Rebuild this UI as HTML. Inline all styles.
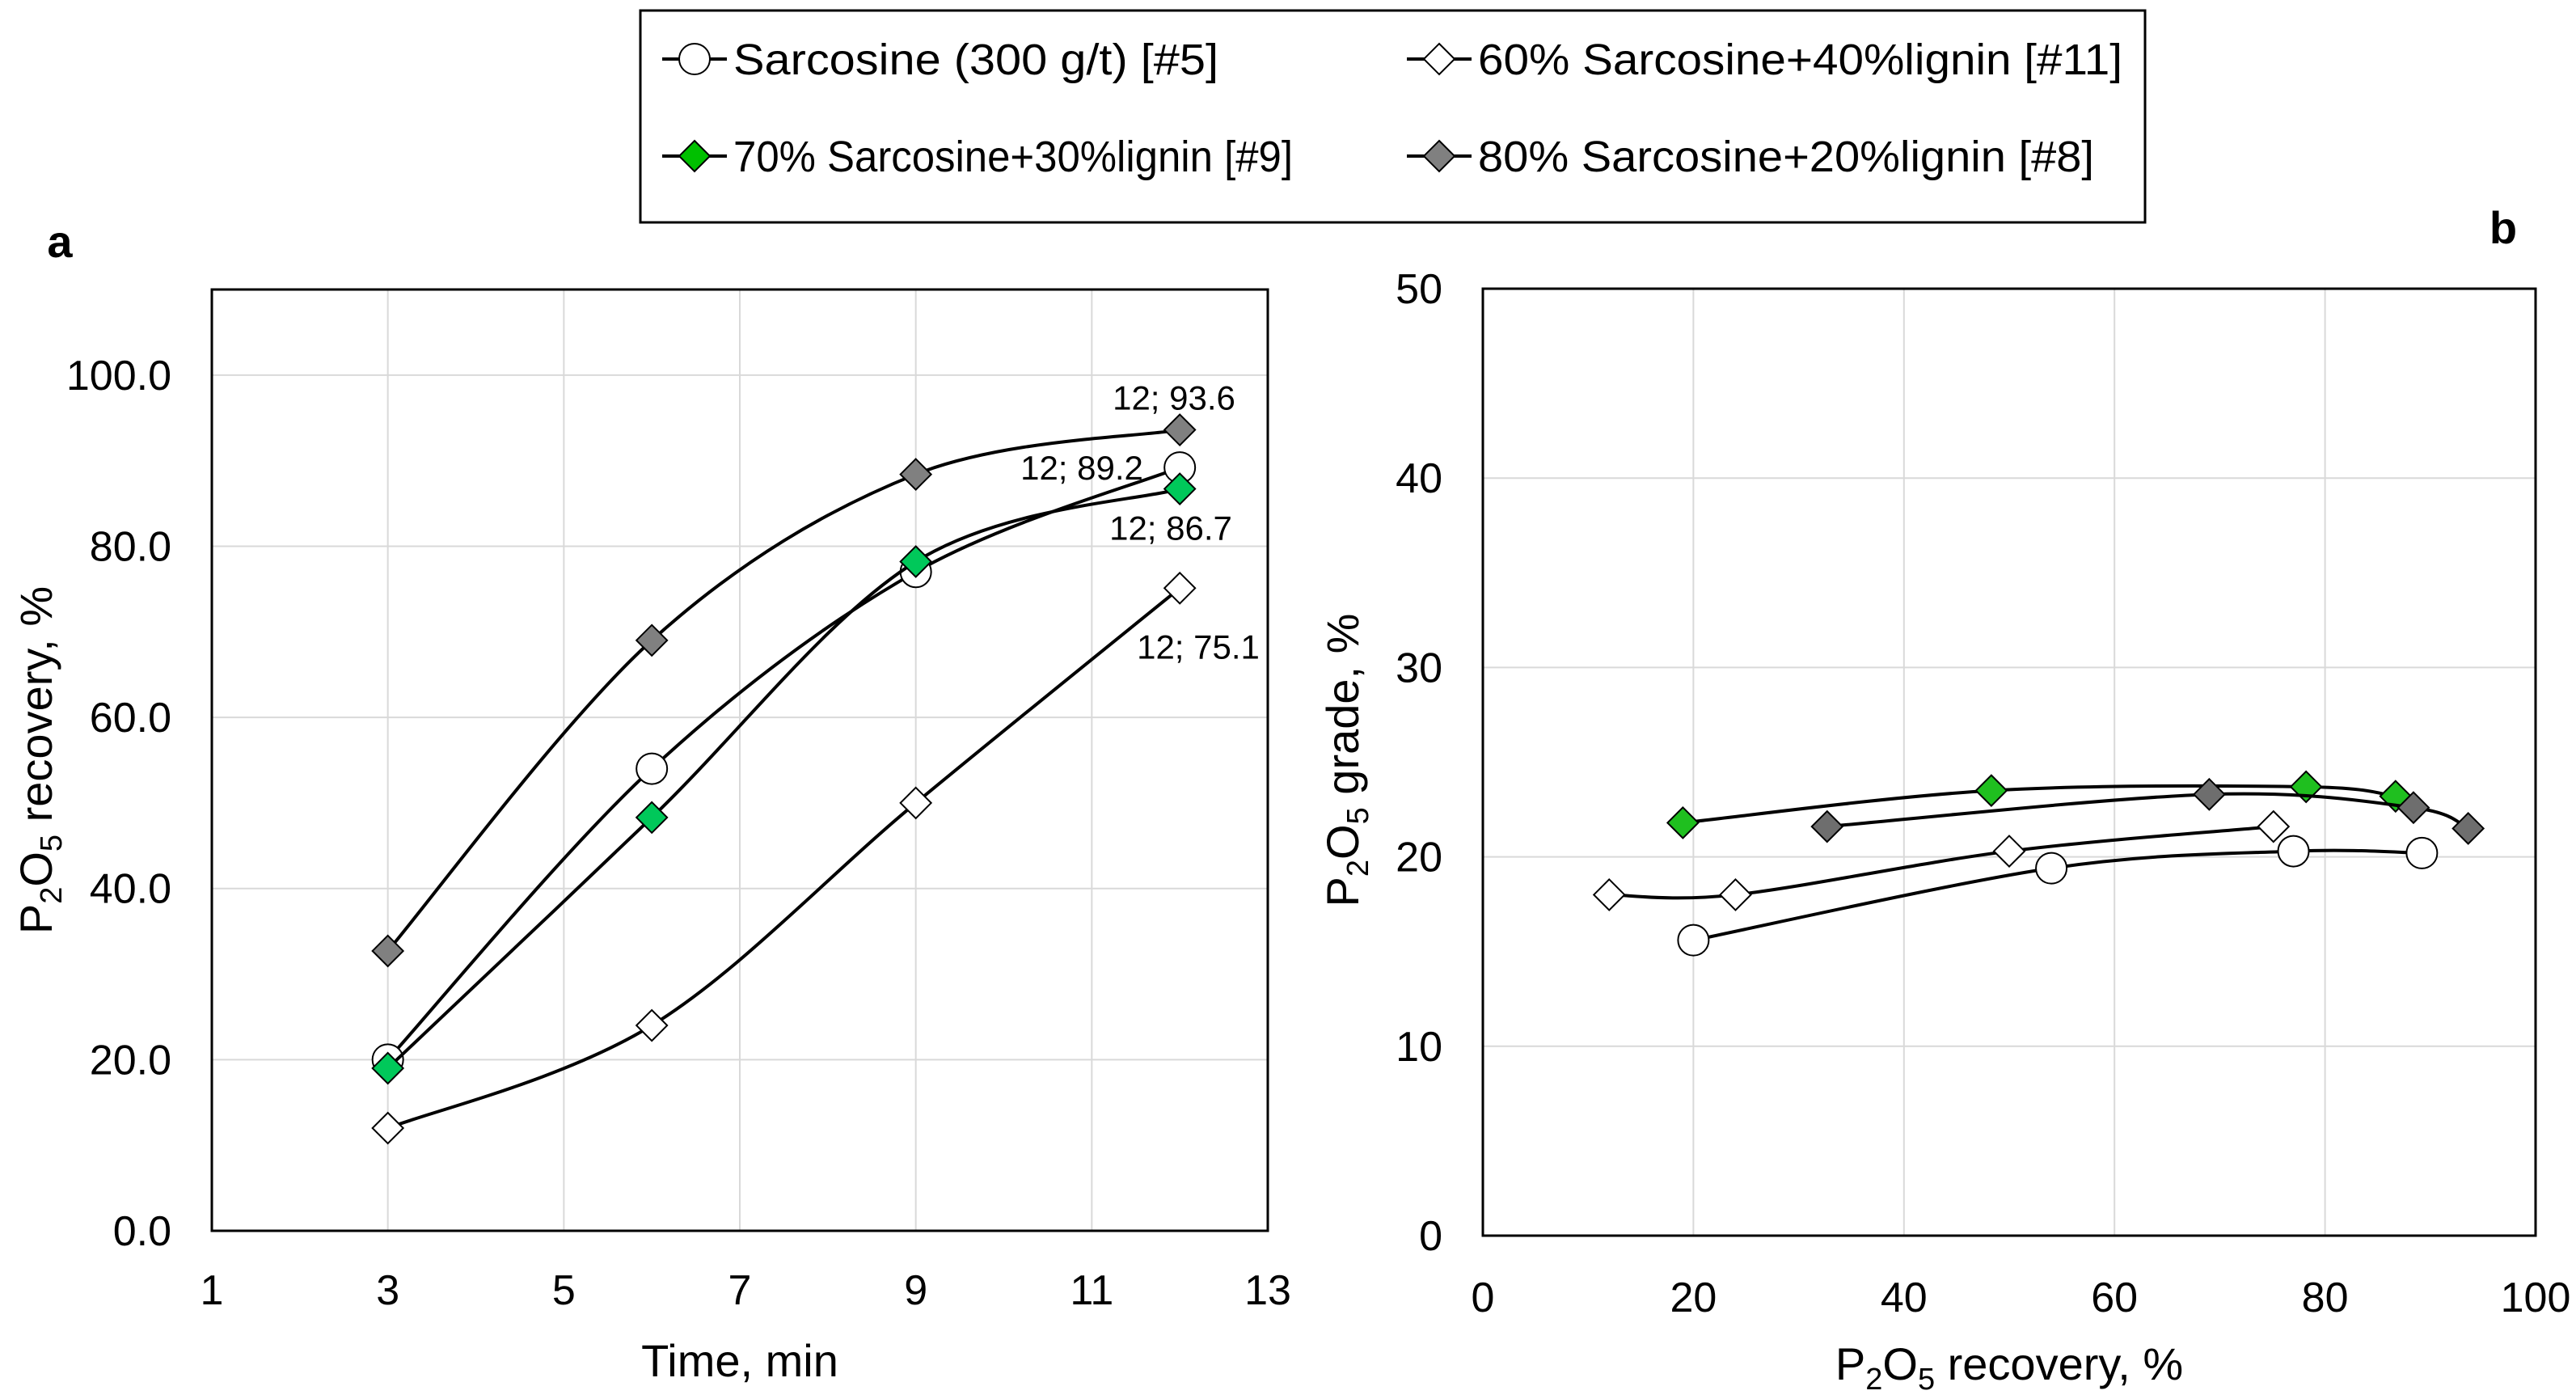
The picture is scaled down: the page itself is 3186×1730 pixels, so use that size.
<!DOCTYPE html>
<html><head><meta charset="utf-8"><title>P2O5 recovery and grade</title>
<style>
html,body{margin:0;padding:0;background:#fff;}
svg{display:block;font-family:"Liberation Sans",sans-serif;}
</style></head>
<body>
<svg id="fig" width="3186" height="1730" viewBox="0 0 3186 1730" xmlns="http://www.w3.org/2000/svg">
  <rect x="0" y="0" width="3186" height="1730" fill="#fff"/>
  <g id="legend">
    <rect x="792" y="13" width="1861" height="262" fill="#fff" stroke="#000" stroke-width="3"/>
  </g>
  <text x="74" y="318" font-size="56" font-weight="bold" text-anchor="middle">a</text>
  <text x="3096" y="301" font-size="56" font-weight="bold" text-anchor="middle">b</text>
  <g id="chartA"></g>
  <g id="chartB"></g>
</svg>
<script>
// ---- data ----
const times = [3, 6, 9, 12];
const recSarcosine = [20.0, 54.0, 77.0, 89.2];
const rec60 = [12.0, 24.0, 50.0, 75.1];
const rec70 = [19.0, 48.3, 78.2, 86.7];
const rec80 = [32.7, 69.0, 88.4, 93.6];
const gradeSarcosine = [15.6, 19.4, 20.3, 20.2];
const grade60 = [18.0, 18.0, 20.3, 21.6];
const grade70 = [21.8, 23.5, 23.7, 23.2];
const grade80 = [21.6, 23.3, 22.6, 21.5];
const bRec60 = [12.0, 24.0, 50.0, 75.1];
const aXTicks = [1, 3, 5, 7, 9, 11, 13];
const aYTicks = [0, 20, 40, 60, 80, 100];
const bXTicks = [0, 20, 40, 60, 80, 100];
const bYTicks = [0, 10, 20, 30, 40, 50];
const legendLabels = ["Sarcosine (300 g/t) [#5]", "60% Sarcosine+40%lignin [#11]", "70% Sarcosine+30%lignin [#9]", "80% Sarcosine+20%lignin [#8]"];
const endLabels = ["12; 93.6", "12; 89.2", "12; 86.7", "12; 75.1"];

const NS = "http://www.w3.org/2000/svg";
function mk(tag, attrs, parent) {
  const e = document.createElementNS(NS, tag);
  for (const k in attrs) e.setAttribute(k, attrs[k]);
  parent.appendChild(e);
  return e;
}
function smoothPath(pts) {
  let d = "M" + pts[0][0] + "," + pts[0][1];
  for (let i = 0; i < pts.length - 1; i++) {
    const p0 = pts[i - 1] || pts[i], p1 = pts[i], p2 = pts[i + 1], p3 = pts[i + 2] || pts[i + 1];
    const c1x = p1[0] + (p2[0] - p0[0]) / 6, c1y = p1[1] + (p2[1] - p0[1]) / 6;
    const c2x = p2[0] - (p3[0] - p1[0]) / 6, c2y = p2[1] - (p3[1] - p1[1]) / 6;
    d += " C" + c1x + "," + c1y + " " + c2x + "," + c2y + " " + p2[0] + "," + p2[1];
  }
  return d;
}
function marker(kind, fill, cx, cy, parent, name) {
  let e;
  if (kind === "circle") {
    e = mk("circle", {cx: cx, cy: cy, r: 19, fill: fill, stroke: "#000", "stroke-width": 2}, parent);
  } else {
    const h = 19;
    e = mk("polygon", {points: (cx) + "," + (cy - h) + " " + (cx + h) + "," + cy + " " + cx + "," + (cy + h) + " " + (cx - h) + "," + cy, fill: fill, stroke: "#000", "stroke-width": 2}, parent);
  }
  
  
  return e;
}

// ---- legend ----
const leg = document.getElementById("legend");
const legKinds = [["circle", "#fff"], ["diamond", "#fff"], ["diamond", "#00c000"], ["diamond", "#808080"]];
const legPos = [[859, 73], [1780, 73], [859, 193], [1780, 193]];
const legW = [600, 797, 692, 762];
legendLabels.forEach((lab, i) => {
  const g = mk("g", {}, leg);
  
  
  const [x, y] = legPos[i];
  mk("line", {x1: x - 40, y1: y, x2: x + 40, y2: y, stroke: "#000", "stroke-width": 4}, g);
  marker(legKinds[i][0], legKinds[i][1], x, y, g, "legend-marker");
  const t = mk("text", {x: x + 48, y: y + 19, "font-size": 54, textLength: legW[i], lengthAdjust: "spacingAndGlyphs"}, g);
  t.textContent = lab;
  
  
});

// ---- chart builder ----
function buildChart(gid, box, xDom, yDom, xTicks, yTicks, yFmt, xLabY, yLabX, series) {
  const g = document.getElementById(gid);
  const sx = v => box.l + (v - xDom[0]) / (xDom[1] - xDom[0]) * (box.r - box.l);
  const sy = v => box.b - (v - yDom[0]) / (yDom[1] - yDom[0]) * (box.b - box.t);
  const grid = mk("g", {}, g);
  
  
  xTicks.forEach(v => { const x = sx(v); mk("line", {x1: x, y1: box.t, x2: x, y2: box.b, stroke: "#d9d9d9", "stroke-width": 2}, grid); });
  yTicks.forEach(v => { const y = sy(v); mk("line", {x1: box.l, y1: y, x2: box.r, y2: y, stroke: "#d9d9d9", "stroke-width": 2}, grid); });
  const frame = mk("rect", {x: box.l, y: box.t, width: box.r - box.l, height: box.b - box.t, fill: "none", stroke: "#000", "stroke-width": 3}, g);
  
  
  xTicks.forEach(v => {
    const t = mk("text", {x: sx(v), y: xLabY + 18, "font-size": 52, "text-anchor": "middle"}, g);
    t.textContent = v;
    
    
  });
  yTicks.forEach(v => {
    const t = mk("text", {x: yLabX, y: sy(v) + 18, "font-size": 52, "text-anchor": "end"}, g);
    t.textContent = yFmt(v);
    
    
  });
  series.forEach(s => {
    const sg = mk("g", {}, g);
    
    
    const pts = s.x.map((xv, i) => [sx(xv), sy(s.y[i])]);
    const p = mk("path", {d: smoothPath(pts), fill: "none", stroke: "#000", "stroke-width": 4}, sg);
    
    
    pts.forEach(pt => marker(s.kind, s.fill, pt[0], pt[1], sg, "data-point"));
  });
  return {sx, sy, g};
}

const sub = (label) => 'P<tspan font-size="38" dy="12">2</tspan><tspan dy="-12">O</tspan><tspan font-size="38" dy="12">5</tspan><tspan dy="-12"> ' + label + '</tspan>';

// ---- chart a ----
const A = buildChart("chartA", {l: 262, r: 1568, t: 358, b: 1522}, [1, 13], [0, 110], aXTicks, aYTicks, v => v.toFixed(1), 1595, 212, [
  {name: "series-sarcosine", x: times, y: recSarcosine, kind: "circle", fill: "#fff"},
  {name: "series-60-sarcosine", x: times, y: rec60, kind: "diamond", fill: "#fff"},
  {name: "series-70-sarcosine", x: times, y: rec70, kind: "diamond", fill: "#00c85a"},
  {name: "series-80-sarcosine", x: times, y: rec80, kind: "diamond", fill: "#808080"}
]);
const labA = [[1452, rec80[3], -40], [1338, recSarcosine[3], 0], [1448, rec70[3], 48], [1482, rec60[3], 72]];
labA.forEach((l, i) => {
  const t = mk("text", {x: l[0], y: A.sy(l[1]) + l[2] + 15, "font-size": 42, "text-anchor": "middle"}, A.g);
  t.textContent = endLabels[i];
  
  
});
let t = mk("text", {x: 915, y: 1702, "font-size": 56, "text-anchor": "middle"}, A.g);
t.textContent = "Time, min";


t = mk("text", {x: 0, y: 0, "font-size": 56, "text-anchor": "middle", transform: "translate(64,940) rotate(-90)"}, A.g);
t.innerHTML = sub("recovery, %");



// ---- chart b ----
const B = buildChart("chartB", {l: 1834, r: 3136, t: 357, b: 1528}, [0, 100], [0, 50], bXTicks, bYTicks, v => String(v), 1604, 1784, [
  {name: "series-sarcosine", x: recSarcosine, y: gradeSarcosine, kind: "circle", fill: "#fff"},
  {name: "series-60-sarcosine", x: bRec60, y: grade60, kind: "diamond", fill: "#fff"},
  {name: "series-70-sarcosine", x: rec70, y: grade70, kind: "diamond", fill: "#1fbf1f"},
  {name: "series-80-sarcosine", x: rec80, y: grade80, kind: "diamond", fill: "#6e6e6e"}
]);
t = mk("text", {x: 2485, y: 1706, "font-size": 56, "text-anchor": "middle"}, B.g);
t.innerHTML = sub("recovery, %");


t = mk("text", {x: 0, y: 0, "font-size": 56, "text-anchor": "middle", transform: "translate(1680,940) rotate(-90)"}, B.g);
t.innerHTML = sub("grade, %");


</script>
</body></html>
